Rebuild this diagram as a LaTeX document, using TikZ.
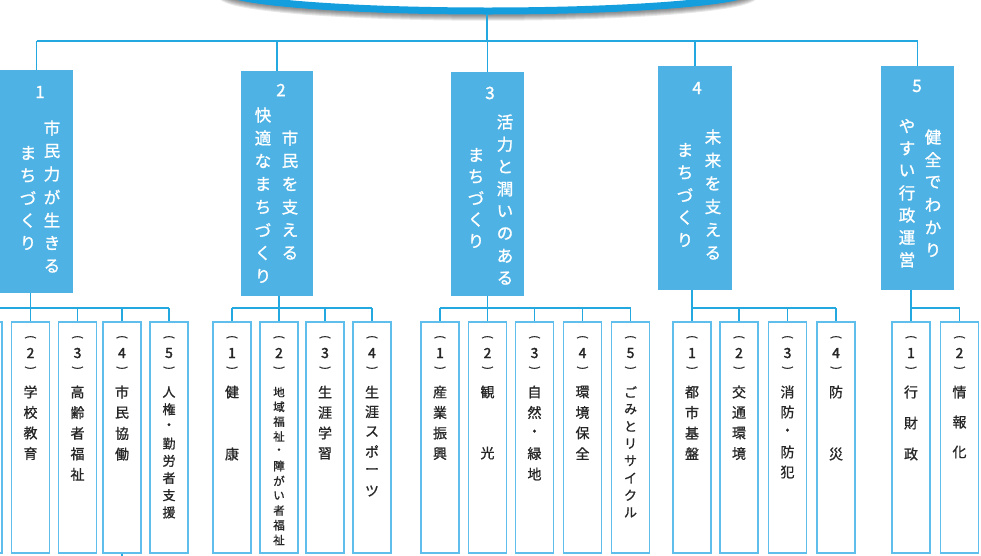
\documentclass[tikz,border=0pt]{standalone}
\usepackage{fontspec}
\setmainfont{Noto Sans CJK JP}
\newfontfamily\jpmed[FakeBold=1.2]{Noto Sans CJK JP}
\newfontfamily\jpsub[FakeBold=0.9]{Noto Sans CJK JP}
\newfontfamily\jpnum[FakeBold=2.2]{Noto Sans CJK JP}
\definecolor{lvl}{RGB}{78,178,228}
\definecolor{cline}{RGB}{35,168,224}
\definecolor{sboxc}{RGB}{95,190,235}
\definecolor{bandc}{RGB}{20,158,222}
\newcommand\vcol[6]{\foreach \c [count=\i] in {#6}{\node[#5] (#1-\i) at ({#2},{#3+(\i-1)*#4}) {\c};}}
\newcommand\mysub[6]{%
  \node[subbox] (#1) at (#2,437.5) {};
  \node[paren, rotate=-90] (#1-o) at (#2,337) {(};
  \node[subnum] (#1-n) at (#2,353) {#3};
  \node[paren, rotate=-90] (#1-c) at (#2,368) {)};
  \foreach \c [count=\i] in {#6}{\node[#5] (#1-t\i) at ({#2},{392+(\i-1)*#4}) {\c};}%
}
\begin{document}
\begin{tikzpicture}[x=1pt,y=-1pt,
  conn/.style={draw=cline, line width=1.5pt},
  lvlbox/.style={fill=lvl, draw=none, inner sep=0pt},
  subbox/.style={draw=sboxc, line width=1.7pt, fill=white, minimum width=38pt, minimum height=231pt, inner sep=0pt},
  lvltxt/.style={text=white, font=\jpmed\fontsize{16.5}{16.5}\selectfont, inner sep=0pt},
  lvlnum/.style={text=white, font=\jpmed\fontsize{17}{17}\selectfont, inner sep=0pt},
  subtxt/.style={text=black!85, font=\jpsub\fontsize{14}{14}\selectfont, inner sep=0pt},
  subsmall/.style={text=black!85, font=\jpsub\fontsize{13}{13}\selectfont, inner sep=0pt},
  subtiny/.style={text=black!85, font=\jpsub\fontsize{11.5}{11.5}\selectfont, inner sep=0pt},
  subnum/.style={text=black!85, font=\jpnum\fontsize{14}{14}\selectfont, inner sep=0pt},
  paren/.style={text=black!85, font=\jpsub\fontsize{11}{11}\selectfont, inner sep=0pt}
]
\useasboundingbox (0,0) rectangle (981,555);

% top banner edge with shadow
\foreach \k in {1,...,6}{
  \pgfmathsetmacro\lw{1+2*\k}
  \draw[black, opacity=0.09, line width=\lw pt] (488,-7.5) ellipse [x radius=265, y radius=21.7];
}
\fill[white] (488,-10.7) ellipse [x radius=265, y radius=21.7];
\draw[bandc, line width=7pt] (488,-10.7) ellipse [x radius=265, y radius=21.7];
\coordinate (root) at (487,14);
\coordinate (hub) at (487,41);
\coordinate (gline) at (0,308);

% level-1 boxes
\node[lvlbox, minimum width=73pt, minimum height=223pt] (b1) at (36.5,181.5) {};
\node[lvlbox, minimum width=72pt, minimum height=225pt] (b2) at (277,183.5) {};
\node[lvlbox, minimum width=73pt, minimum height=224pt] (b3) at (487.5,184) {};
\node[lvlbox, minimum width=74pt, minimum height=224pt] (b4) at (695,178) {};
\node[lvlbox, minimum width=73pt, minimum height=224pt] (b5) at (917.5,178) {};

% top connectors
\draw[conn] (root) -- (hub);
\draw[conn] (b1.north |- hub) -- (b5.north |- hub);
\foreach \b in {b1,b2,b3,b4,b5}{\draw[conn] (\b.north |- hub) -- (\b.north);}

% level-1 texts
\node[lvlnum] (n1) at (40,92) {1};
\vcol{c1r}{52}{128}{23}{lvltxt}{市,民,力,が,生,き,る}
\vcol{c1l}{28}{153}{22.5}{lvltxt}{ま,ち,づ,く,り}
\node[lvlnum] (n2) at (281,90) {2};
\vcol{c2r}{290}{138}{23}{lvltxt}{市,民,を,支,え,る}
\vcol{c2l}{263}{115}{23}{lvltxt}{快,適,な,ま,ち,づ,く,り}
\node[lvlnum] (n3) at (490,93) {3};
\vcol{c3r}{505}{122}{22.3}{lvltxt}{活,力,と,潤,い,の,あ,る}
\vcol{c3l}{476}{155}{21.5}{lvltxt}{ま,ち,づ,く,り}
\node[lvlnum] (n4) at (697,88) {4};
\vcol{c4r}{713}{137}{23.2}{lvltxt}{未,来,を,支,え,る}
\vcol{c4l}{685}{150}{22.5}{lvltxt}{ま,ち,づ,く,り}
\node[lvlnum] (n5) at (917,86) {5};
\vcol{c5r}{933}{137}{22.6}{lvltxt}{健,全,で,わ,か,り}
\vcol{c5l}{907}{126}{22.3}{lvltxt}{や,す,い,行,政,運,営}

% group 1
\node[subbox] (s1-1) at (-17,437.5) {};
\mysub{s1-2}{30.5}{2}{20.5}{subtxt}{学,校,教,育}
\mysub{s1-3}{77.5}{3}{20.6}{subtxt}{高,齢,者,福,祉}
\mysub{s1-4}{122}{4}{20.7}{subtxt}{市,民,協,働}
\mysub{s1-5}{169}{5}{17.2}{subsmall}{人,権,・,勤,労,者,支,援}
% group 2
\mysub{s2-1}{232}{1}{62}{subtxt}{健,康}
\mysub{s2-2}{279}{2}{14.8}{subtiny}{地,域,福,祉,・,障,が,い,者,福,祉}
\mysub{s2-3}{325}{3}{20.5}{subtxt}{生,涯,学,習}
\mysub{s2-4}{372}{4}{19.8}{subtxt}{生,涯,ス,ポ,ー,ツ}
% group 3
\mysub{s3-1}{440}{1}{20.5}{subtxt}{産,業,振,興}
\mysub{s3-2}{487.5}{2}{61}{subtxt}{観,光}
\mysub{s3-3}{534.5}{3}{20.5}{subtxt}{自,然,・,緑,地}
\mysub{s3-4}{582.5}{4}{20.5}{subtxt}{環,境,保,全}
\mysub{s3-5}{630.5}{5}{17.2}{subsmall}{ご,み,と,リ,サ,イ,ク,ル}
% group 4
\mysub{s4-1}{692}{1}{20.5}{subtxt}{都,市,基,盤}
\mysub{s4-2}{739}{2}{20.5}{subtxt}{交,通,環,境}
\mysub{s4-3}{787.5}{3}{20}{subtxt}{消,防,・,防,犯}
\mysub{s4-4}{836}{4}{62}{subtxt}{防,災}
% group 5
\mysub{s5-1}{911}{1}{31}{subtxt}{行,財,政}
\mysub{s5-2}{959.5}{2}{30}{subtxt}{情,報,化}

% sub connectors
\draw[conn] (s1-1.north |- gline) -- (s1-5.north |- gline);
\draw[conn] (s2-1.north |- gline) -- (s2-4.north |- gline);
\draw[conn] (s3-1.north |- gline) -- (s3-5.north |- gline);
\draw[conn] (s4-1.north |- gline) -- (s4-4.north |- gline);
\draw[conn] (s5-1.north |- gline) -- (s5-2.north |- gline);
\foreach \s in {s1-1,s1-2,s1-3,s1-4,s1-5,s2-1,s2-2,s2-3,s2-4,s3-1,s3-2,s3-3,s3-4,s3-5,s4-1,s4-2,s4-3,s4-4,s5-1,s5-2}{
  \draw[conn] (\s.north |- gline) -- (\s.north);
}
\draw[conn] (b1.south -| s1-2.north) -- (s1-2.north |- gline);
\draw[conn] (b2.south -| s2-2.north) -- (s2-2.north |- gline);
\draw[conn] (b3.south -| s3-2.north) -- (s3-2.north |- gline);
\draw[conn] (b4.south -| s4-1.north) -- (s4-1.north |- gline);
\draw[conn] (b5.south -| s5-1.north) -- (s5-1.north |- gline);
\coordinate (stub) at (122,560);
\draw[conn] (s1-4.south) -- (stub);
\end{tikzpicture}
\end{document}
